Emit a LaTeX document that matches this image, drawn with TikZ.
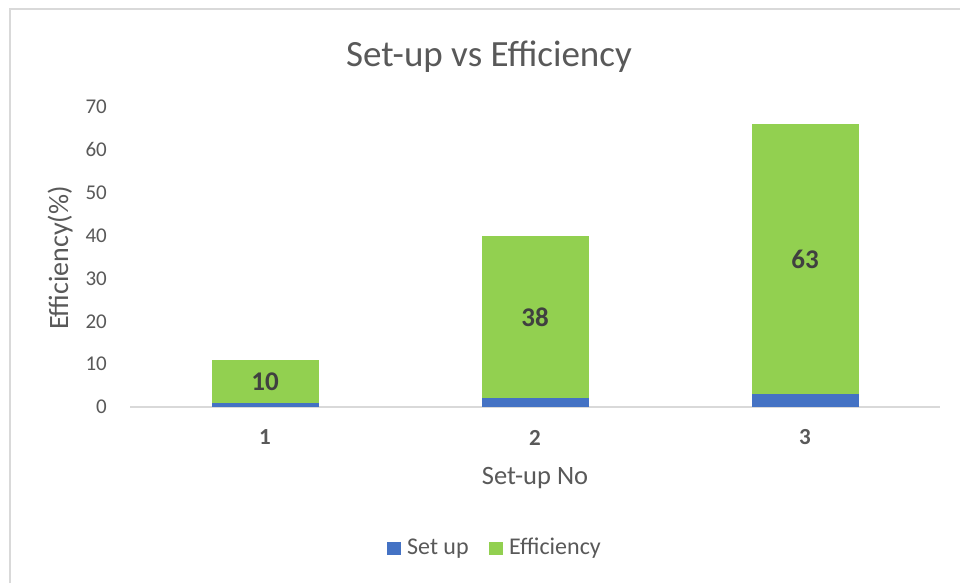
\documentclass[tikz,border=0pt]{standalone}
\usepackage{fontspec}
\setmainfont{Carlito}
\definecolor{txt}{HTML}{595959}
\definecolor{dlab}{HTML}{404040}
\definecolor{sblue}{HTML}{4472C4}
\definecolor{sgreen}{HTML}{92D050}
\definecolor{frame}{HTML}{D9D9D9}
\begin{document}
\begin{tikzpicture}[x=1pt,y=-1pt,
  tick/.style={anchor=east,inner sep=0pt,text=txt,font=\fontsize{21}{24}\selectfont},
  cat/.style={inner sep=0pt,text=txt,font=\fontsize{23}{26}\selectfont\bfseries},
  dl/.style={inner sep=0pt,text=dlab,font=\fontsize{27}{30}\selectfont\bfseries},
  axt/.style={inner sep=0pt,text=txt,font=\fontsize{26.5}{30}\selectfont},
  leg/.style={anchor=base west,inner sep=0pt,text=txt,font=\fontsize{24}{28}\selectfont},
  barb/.style={fill=sblue,draw=none},
  barg/.style={fill=sgreen,draw=none}]
\useasboundingbox (0,0) rectangle (960,583);
\fill[white] (0,0) rectangle (960,583);
\draw[frame,line width=2pt] (10,583) -- (10,9) -- (960,9);
% title
\node[inner sep=0pt,text=txt,font=\fontsize{37}{40}\selectfont,anchor=base] (title) at (489,67) {Set-up vs Efficiency};
% axis
\coordinate (axl) at (130,407);
\coordinate (axr) at (940,407);
\draw[frame,line width=1.5pt] (axl) -- (axr);
% ticks
\foreach \v in {0,10,...,70}{
  \node[tick] (t\v) at (107,{407-4.286*\v}) {\v};
}
% bars: centers 265,535,805 ; width 107
\foreach \i/\c/\s/\e in {1/265/1/10, 2/535/2/38, 3/805/3/63}{
  \fill[barb] ({\c-53.5},407) rectangle ({\c+53.5},{407-4.286*\s});
  \fill[barg] ({\c-53.5},{407-4.286*\s}) rectangle ({\c+53.5},{407-4.286*(\s+\e)});
  \node[dl] (d\i) at (\c,{407-4.286*(\s+\e/2)}) {\e};
  \node[cat] (c\i) at (\c,437.5) {\i};
}
% axis titles
\node[axt,anchor=base] (xt) at (535,484) {Set-up No};
\node[axt,rotate=90,anchor=base,font=\fontsize{28}{30}\selectfont] (yt) at (68,258) {Efficiency(\%)};
% legend
\fill[sblue] (387,542) rectangle (401,555);
\node[leg] (l1) at (407,554) {Set up};
\fill[sgreen] (489,542) rectangle (503,555);
\node[leg] (l2) at (509,554) {Efficiency};
\end{tikzpicture}
\end{document}
